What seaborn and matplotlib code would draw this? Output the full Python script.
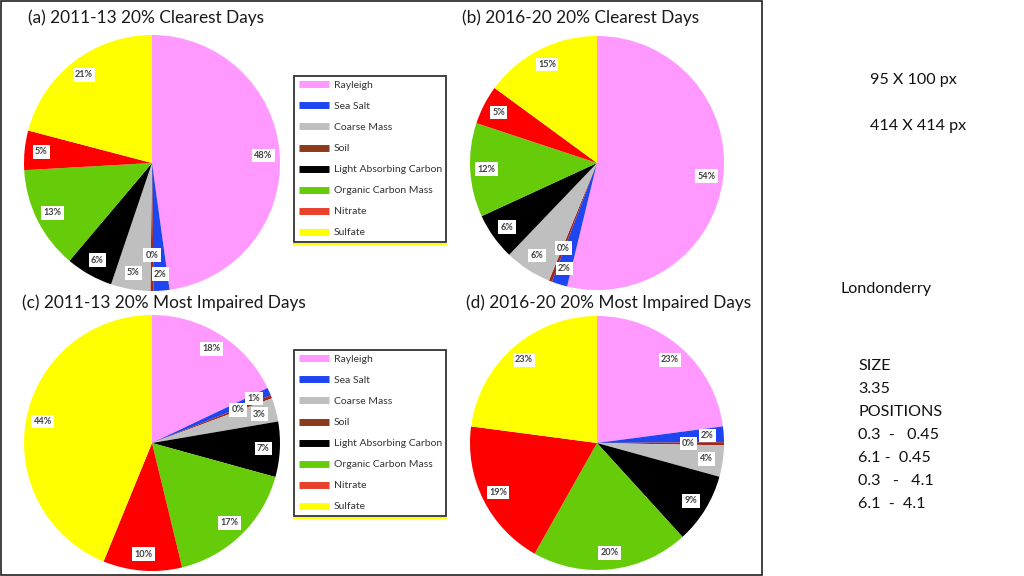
import matplotlib
matplotlib.use("Agg")
import matplotlib.pyplot as plt
import seaborn as sns
import numpy as np
from matplotlib.lines import Line2D
from matplotlib.patches import Rectangle

sns.set_theme(style="white")
plt.rcParams['font.family'] = ['Lato', 'DejaVu Sans']

# ---- data ----
components = ["Rayleigh", "Sea Salt", "Soil", "Coarse Mass",
              "Light Absorbing Carbon", "Organic Carbon Mass", "Nitrate", "Sulfate"]
legend_order = ["Rayleigh", "Sea Salt", "Coarse Mass", "Soil",
                "Light Absorbing Carbon", "Organic Carbon Mass", "Nitrate", "Sulfate"]
colors = {"Rayleigh": "#FF99FF", "Sea Salt": "#1F45F0", "Soil": "#A0281A",
          "Coarse Mass": "#BFBFBF", "Light Absorbing Carbon": "#000000",
          "Organic Carbon Mass": "#66CC0A", "Nitrate": "#FF0000", "Sulfate": "#FFFF00"}
legend_colors = {"Rayleigh": "#FF99FF", "Sea Salt": "#1F45F0", "Coarse Mass": "#BFBFBF",
                 "Soil": "#8B3A1A", "Light Absorbing Carbon": "#000000",
                 "Organic Carbon Mass": "#66CC0A", "Nitrate": "#E8402A", "Sulfate": "#FFFF00"}

clear_2011 = [48, 2, 0.4, 5, 6, 13, 5, 21]
clear_2016 = [54, 2, 0.4, 6, 6, 12, 5, 15]
impaired_2011 = [18, 1, 0.4, 3, 7, 17, 10, 44]
impaired_2016 = [23, 2, 0.4, 4, 9, 20, 19, 23]

titles = ["(a) 2011-13 20% Clearest Days", "(b) 2016-20 20% Clearest Days",
          "(c) 2011-13 20% Most Impaired Days", "(d) 2016-20 20% Most Impaired Days"]
datasets = [clear_2011, clear_2016, impaired_2011, impaired_2016]

side_notes = ["95 X 100 px", "414 X 414 px"]
site = "Londonderry"
size_notes = ["SIZE", "3.35", "POSITIONS", "0.3  -   0.45", "6.1 -  0.45",
              "0.3   -   4.1", "6.1  -  4.1"]

W, H = 1024, 576
fig = plt.figure(figsize=(W / 100, H / 100), dpi=100)
fig.patch.set_facecolor("white")

def fx(px):
    return px / W

def fy(py):
    return 1 - py / H

# pie geometry in pixels (center x, center y, radius)
geoms = [(152, 163, 128), (597, 163, 127), (152, 443, 128), (597, 443, 127)]
title_pos = [(28, 18), (462, 18), (22, 303), (466, 303)]

for data, title, (cx, cy, r), (tx, ty) in zip(datasets, titles, geoms, title_pos):
    ax = fig.add_axes([fx(cx - r), fy(cy + r), fx(2 * r), (2 * r) / H])
    wedges, _ = ax.pie(data, colors=[colors[c] for c in components],
                       startangle=90, counterclock=False,
                       wedgeprops=dict(linewidth=0))
    ax.set_xlim(-1, 1)
    ax.set_ylim(-1, 1)
    ax.set_aspect("equal")
    ax.axis("off")
    total = sum(data)
    for w, v, name in zip(wedges, data, components):
        ang = np.deg2rad((w.theta1 + w.theta2) / 2)
        dist = 0.72 if name == "Soil" else 0.87
        ax.text(dist * np.cos(ang), dist * np.sin(ang), f"{round(v / total * 100):.0f}%",
                ha="center", va="center", fontsize=6.6, fontweight="bold",
                color="#404040",
                bbox=dict(boxstyle="square,pad=0.25", fc="white", ec="none"))
    fig.text(fx(tx), fy(ty), title, ha="left", va="center", fontsize=12.4, color="#1a1a1a")

# legends
handles = [Line2D([0], [0], color=legend_colors[c], lw=5, solid_capstyle="butt")
           for c in legend_order]
for top in (76, 350):
    leg = fig.legend(handles, legend_order, loc="upper left",
                     bbox_to_anchor=(fx(294), fy(top)), frameon=True, fancybox=False,
                     fontsize=7.5, handlelength=2.9, handletextpad=0.45,
                     labelspacing=1.13, borderpad=0.45, borderaxespad=0)
    leg.get_frame().set_edgecolor("black")
    leg.get_frame().set_linewidth(1.3)
    for t in leg.get_texts():
        t.set_color("#333333")
    fig.canvas.draw()
    bb = leg.get_window_extent().transformed(fig.transFigure.inverted())
    fig.add_artist(Line2D([bb.x0, bb.x1], [bb.y0 - 1.5 / H, bb.y0 - 1.5 / H],
                          transform=fig.transFigure, color="#FFFF00", lw=1.5))

# outer frame
fig.patches.append(Rectangle((fx(1), fy(575)), fx(761), 574 / H, transform=fig.transFigure,
                             fill=False, ec="#222222", lw=1.2))

# side notes
fs = 11.6
fig.text(fx(870), fy(80), side_notes[0], ha="left", va="center", fontsize=fs, color="#111111")
fig.text(fx(870), fy(126), side_notes[1], ha="left", va="center", fontsize=fs, color="#111111")
fig.text(fx(840), fy(289), site, ha="left", va="center", fontsize=fs, color="#111111")
for i, s in enumerate(size_notes):
    fig.text(fx(858), fy(366 + 23 * i), s, ha="left", va="center", fontsize=fs, color="#111111")

fig.savefig("out.png", dpi=100)
